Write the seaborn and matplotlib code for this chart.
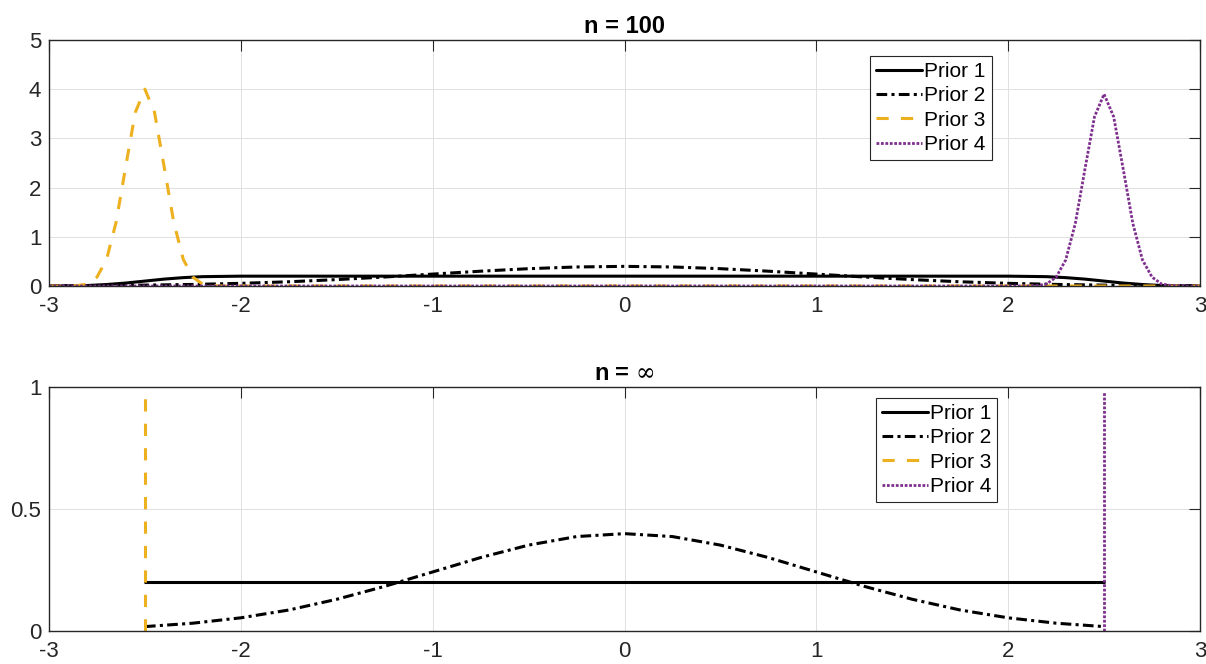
import numpy as np
import pandas as pd
import matplotlib
matplotlib.use("Agg")
import matplotlib.pyplot as plt
import seaborn as sns

# ---------------- data ----------------
labels = ["Prior 1", "Prior 2", "Prior 3", "Prior 4"]

# n = 100
x_p1_100 = [-3.0, -2.9, -2.8, -2.7, -2.6, -2.5, -2.4, -2.3, -2.2, -2.0, 2.0, 2.2, 2.3, 2.4, 2.5, 2.6, 2.7, 2.8, 2.9, 3.0]
y_p1_100 = [0.002, 0.004, 0.01, 0.03, 0.06, 0.10, 0.14, 0.17, 0.19, 0.20, 0.20, 0.19, 0.17, 0.14, 0.10, 0.06, 0.03, 0.01, 0.004, 0.002]

x_p2 = [-3.0, -2.75, -2.5, -2.25, -2.0, -1.75, -1.5, -1.25, -1.0, -0.75, -0.5, -0.25, 0.0,
        0.25, 0.5, 0.75, 1.0, 1.25, 1.5, 1.75, 2.0, 2.25, 2.5, 2.75, 3.0]
y_p2 = [0.004, 0.009, 0.018, 0.032, 0.054, 0.086, 0.130, 0.183, 0.242, 0.301, 0.352, 0.387, 0.399,
        0.387, 0.352, 0.301, 0.242, 0.183, 0.130, 0.086, 0.054, 0.032, 0.018, 0.009, 0.004]

x_p3_100 = [-3.0, -2.9, -2.85, -2.8, -2.75, -2.7, -2.65, -2.6, -2.55, -2.5, -2.45, -2.4, -2.35, -2.3,
            -2.25, -2.2, -2.15, -2.1, 0.0, 3.0]
y_p3_100 = [0.0, 0.0, 0.01, 0.04, 0.18, 0.54, 1.30, 2.43, 3.53, 4.00, 3.53, 2.43, 1.30, 0.54,
            0.18, 0.04, 0.01, 0.0, 0.0, 0.0]

x_p4_100 = [-3.0, 0.0, 2.1, 2.15, 2.2, 2.25, 2.3, 2.35, 2.4, 2.45, 2.5, 2.55, 2.6, 2.65, 2.7,
            2.75, 2.8, 2.85, 2.9, 3.0]
y_p4_100 = [0.0, 0.0, 0.0, 0.01, 0.04, 0.18, 0.53, 1.27, 2.37, 3.44, 3.90, 3.44, 2.37, 1.27, 0.53,
            0.18, 0.04, 0.01, 0.0, 0.0]

# n = infinity
x_p1_inf = [-2.5, 2.5]
y_p1_inf = [0.2, 0.2]
x_p2_inf = [-2.5, -2.25, -2.0, -1.75, -1.5, -1.25, -1.0, -0.75, -0.5, -0.25, 0.0,
            0.25, 0.5, 0.75, 1.0, 1.25, 1.5, 1.75, 2.0, 2.25, 2.5]
y_p2_inf = [0.018, 0.032, 0.054, 0.086, 0.130, 0.183, 0.242, 0.301, 0.352, 0.387, 0.399,
            0.387, 0.352, 0.301, 0.242, 0.183, 0.130, 0.086, 0.054, 0.032, 0.018]
x_p3_inf = [-2.5, -2.5]
y_p3_inf = [0.0, 1.0]
x_p4_inf = [2.5, 2.5]
y_p4_inf = [0.0, 0.98]

xticks = [-3, -2, -1, 0, 1, 2, 3]
yticks_top = [0, 1, 2, 3, 4, 5]
yticks_bot = [0, 0.5, 1]
ytick_labels_bot = ["0", "0.5", "1"]
titles = ["n = 100", r"n = $\infty$"]

# ---------------- styling ----------------
sns.set_style("white")
plt.rcParams["font.family"] = ["Liberation Sans", "DejaVu Sans"]
plt.rcParams["mathtext.fontset"] = "dejavuserif"
plt.rcParams["text.color"] = "black"

BLACK = "#000000"
ORANGE = "#EDB120"
PURPLE = "#7E2F8E"
AXC = "#262626"
styles = [
    dict(color=BLACK, linestyle="-", linewidth=2.2),
    dict(color=BLACK, linestyle=(0, (3.5, 1.4, 1.0, 1.4)), linewidth=2.2),
    dict(color=ORANGE, linestyle=(0, (4.0, 4.0)), linewidth=2.2),
    dict(color=PURPLE, linestyle=(0, (1.0, 0.6)), linewidth=2.0),
]

fig = plt.figure(figsize=(12.06, 6.64), dpi=100)
W, H = 1206, 664
ax1 = fig.add_axes([49 / W, 1 - 286 / H, 1151 / W, 246 / H])
ax2 = fig.add_axes([49 / W, 1 - 631 / H, 1151 / W, 244 / H])

top_series = [(x_p1_100, y_p1_100), (x_p2, y_p2), (x_p3_100, y_p3_100), (x_p4_100, y_p4_100)]
bot_series = [(x_p1_inf, y_p1_inf), (x_p2_inf, y_p2_inf), (x_p3_inf, y_p3_inf), (x_p4_inf, y_p4_inf)]

for ax, series in [(ax1, top_series), (ax2, bot_series)]:
    for (xs, ys), lab, st in zip(series, labels, styles):
        df = pd.DataFrame({"x": xs, "y": ys})
        sns.lineplot(data=df, x="x", y="y", ax=ax, estimator=None, sort=False,
                     label=lab, **st)

def style_axes(ax, yticks, ylabels, ylim, title):
    ax.set_xlim(-3, 3)
    ax.set_ylim(*ylim)
    ax.set_xticks(xticks)
    ax.set_xticklabels([str(t) for t in xticks])
    ax.set_yticks(yticks)
    ax.set_yticklabels(ylabels)
    ax.set_xlabel("")
    ax.set_ylabel("")
    ax.grid(True, color="#e0e0e0", linewidth=0.7)
    ax.set_axisbelow(True)
    ax.tick_params(direction="in", length=8, width=0.8, top=True, right=True,
                   labelsize=16, colors=AXC)
    ax.tick_params(axis="x", pad=7)
    ax.tick_params(axis="y", pad=5.5)
    for sp in ax.spines.values():
        sp.set_visible(True)
        sp.set_color(AXC)
        sp.set_linewidth(1.0)
    ax.set_title(title, fontsize=17, fontweight="bold", pad=5, color="black")

style_axes(ax1, yticks_top, [str(t) for t in yticks_top], (0, 5), titles[0])
style_axes(ax2, yticks_bot, ytick_labels_bot, (0, 1), titles[1])

for ax, anchor in [(ax1, (0.819, 0.935)), (ax2, (0.824, 0.955))]:
    leg = ax.legend(loc="upper right", bbox_to_anchor=anchor, fontsize=15,
                    frameon=True, fancybox=False, framealpha=1, edgecolor=AXC,
                    handlelength=2.2, handletextpad=0.1, borderpad=0.3,
                    labelspacing=0.25, borderaxespad=0)
    leg.get_frame().set_linewidth(0.8)
    for t in leg.get_texts():
        t.set_color("black")

fig.savefig("out.png", dpi=100)
